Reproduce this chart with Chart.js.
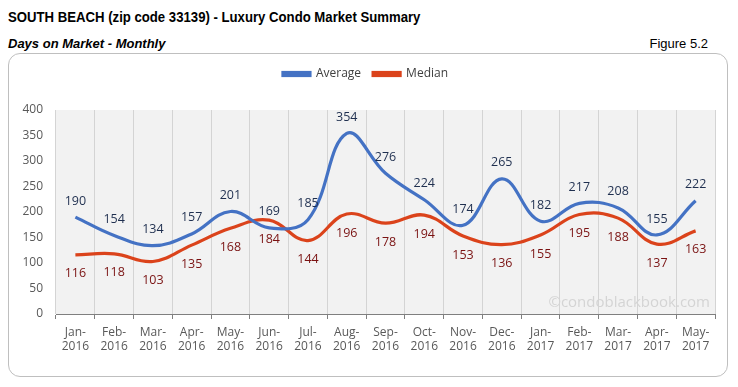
<!DOCTYPE html>
<html>
<head>
<meta charset="utf-8">
<script src="https://cdn.jsdelivr.net/npm/chart.js@4/dist/chart.umd.min.js"></script>
<style>
  body { margin: 0; background: #fff; width: 738px; height: 387px; position: relative; overflow: hidden; }
  .title { position: absolute; left: 8px; top: 9px; font: bold 14px "Liberation Sans", sans-serif; color: #000; transform: scaleX(0.94); transform-origin: left; white-space: nowrap; }
  .sub { position: absolute; left: 8px; top: 36px; font: italic bold 13px "Liberation Sans", sans-serif; color: #000; }
  .fig { position: absolute; right: 30px; top: 36px; font: 13px "Liberation Sans", sans-serif; color: #000; }
  .box { position: absolute; left: 8px; top: 53px; width: 718px; height: 322px; border: 1px solid #bfbfbf; border-radius: 12px; }
  .box canvas { position: absolute; left: 0; top: 0; }
</style>
</head>
<body>
<div class="title">SOUTH BEACH (zip code 33139) - Luxury Condo Market Summary</div>
<div class="sub">Days on Market - Monthly</div>
<div class="fig">Figure 5.2</div>
<div class="box"><canvas id="myChart" width="718" height="322"></canvas></div>
<script>
// months
var months = [['Jan-', '2016'], ['Feb-', '2016'], ['Mar-', '2016'], ['Apr-', '2016'], ['May-', '2016'], ['Jun-', '2016'],
    ['Jul-', '2016'], ['Aug-', '2016'], ['Sep-', '2016'], ['Oct-', '2016'], ['Nov-', '2016'], ['Dec-', '2016'],
    ['Jan-', '2017'], ['Feb-', '2017'], ['Mar-', '2017'], ['Apr-', '2017'], ['May-', '2017']];
var averageDays = [190, 154, 134, 157, 201, 169, 185, 354, 276, 224, 174, 265, 182, 217, 208, 155, 222];
var medianDays = [116, 118, 103, 135, 168, 184, 144, 196, 178, 194, 153, 136, 155, 195, 188, 137, 163];

// extra room under the legend
var legendGap = {
    id: 'legendGap',
    beforeInit: function (chart) {
        var fit = chart.legend.fit;
        chart.legend.fit = function () {
            fit.bind(chart.legend)();
            this.height += 20;
        };
    }
};

// grey plot area + watermark
var plotBg = {
    id: 'plotBg',
    beforeDraw: function (chart) {
        var a = chart.chartArea, ctx = chart.ctx;
        ctx.save();
        ctx.fillStyle = '#f2f2f2';
        ctx.fillRect(a.left, a.top, a.right - a.left, a.bottom - a.top);
        ctx.font = '15px "Open Sans", sans-serif';
        ctx.fillStyle = '#d4d4d4';
        ctx.textAlign = 'right';
        ctx.textBaseline = 'middle';
        ctx.fillText('\u00a9condoblackbook.com', a.right - 5, a.bottom - 11);
        ctx.restore();
    }
};

// value labels, blue above, red below
var valueLabels = {
    id: 'valueLabels',
    afterDatasetsDraw: function (chart) {
        var ctx = chart.ctx;
        ctx.save();
        ctx.font = '12.5px "Open Sans", sans-serif';
        ctx.textAlign = 'center';
        ctx.textBaseline = 'middle';
        chart.data.datasets.forEach(function (ds, i) {
            var meta = chart.getDatasetMeta(i);
            meta.data.forEach(function (pt, j) {
                ctx.fillStyle = i == 0 ? '#1f2f4f' : '#7a1212';
                var y = i == 0 ? pt.y - 16 : pt.y + 19;
                ctx.fillText(ds.data[j], pt.x, y);
            });
        });
        ctx.restore();
    }
};

const config = {
    type: 'line',
    data: {
        labels: months,
        datasets: [{
            label: 'Average',
            data: averageDays,
            borderColor: '#4472C4',
            backgroundColor: '#4472C4',
            borderWidth: 3.2,
            tension: 0.4,
            pointRadius: 0
        }, {
            label: 'Median',
            data: medianDays,
            borderColor: '#DB431B',
            backgroundColor: '#DB431B',
            borderWidth: 3.2,
            tension: 0.4,
            pointRadius: 0
        }]
    },
    options: {
        responsive: false,
        animation: false,
        layout: { padding: { left: 7, right: 12, top: 2, bottom: 0 } },
        scales: {
            x: {
                offset: true,
                grid: { offset: true, color: '#d4d4d4', tickColor: '#7f7f7f', tickLength: 5 },
                border: { display: true, color: '#7f7f7f' },
                ticks: { color: '#595959', font: { family: 'Open Sans', size: 12 }, maxRotation: 0, autoSkip: false, padding: 6 },
                afterFit: function (scale) { scale.height = 62; }
            },
            y: {
                min: 0, max: 400,
                grid: { display: false },
                border: { display: false },
                ticks: { stepSize: 50, color: '#595959', font: { family: 'Open Sans', size: 12 }, padding: 5 },
                afterFit: function (scale) { scale.width = 40; }
            }
        },
        plugins: {
            legend: {
                display: true,
                position: 'top',
                labels: {
                    color: '#404040',
                    font: { family: 'Open Sans', size: 12 },
                    boxWidth: 27,
                    boxHeight: 3,
                    padding: 12
                }
            },
            tooltip: { enabled: false }
        }
    },
    plugins: [legendGap, plotBg, valueLabels]
};

window.myLine = new Chart(document.getElementById('myChart'), config);
</script>
</body>
</html>
